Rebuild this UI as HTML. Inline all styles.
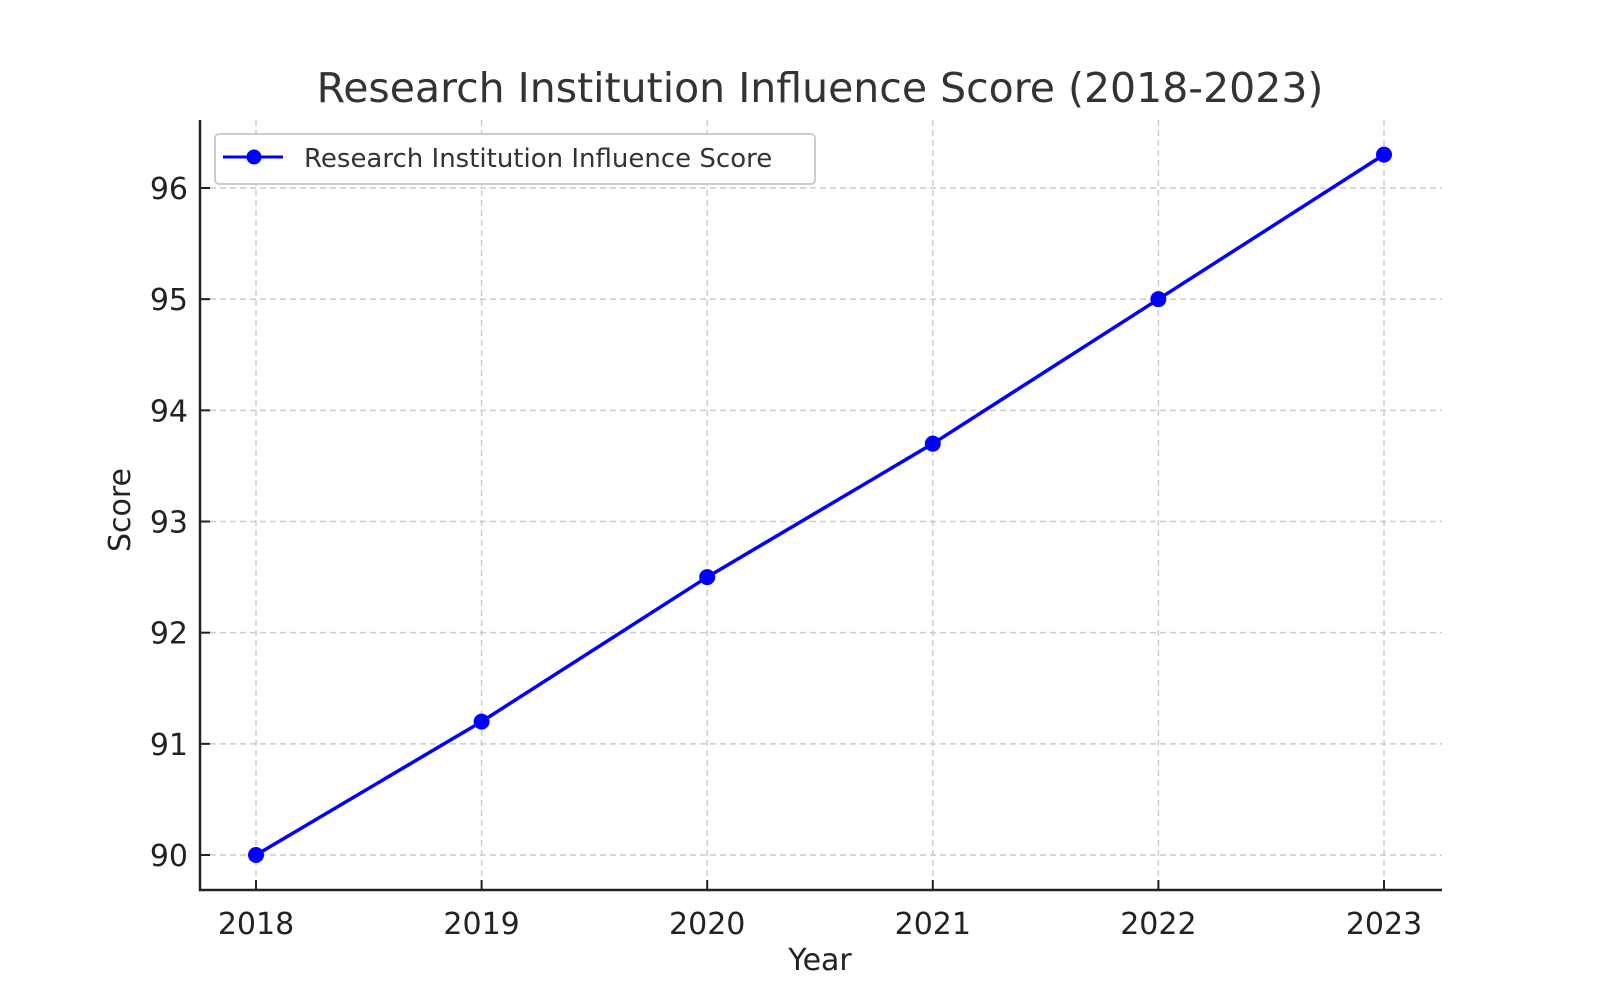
<!DOCTYPE html>
<html><head><meta charset="utf-8"><style>body{margin:0;background:#fff}svg{display:block}text{font-family:"DejaVu Sans","Liberation Sans",sans-serif}</style></head>
<body>
<svg id="chart" width="1600" height="1000" viewBox="0 0 1600 1000">
<rect width="1600" height="1000" fill="#fff"/>
<text x="820" y="102" text-anchor="middle" font-size="41" fill="#333">Research Institution Influence Score (2018-2023)</text>
<g id="grid"></g><g id="axes"></g><g id="series"></g>
<text x="820" y="970" text-anchor="middle" font-size="30" fill="#222">Year</text>
<text transform="translate(130,510) rotate(-90)" text-anchor="middle" font-size="30" fill="#222">Score</text>
<g>
<rect x="215" y="134" width="600" height="50" rx="4" fill="#fff" stroke="#ccc" stroke-width="2"/>
<line x1="223" y1="157" x2="283" y2="157" stroke="#0000ff" stroke-width="3"/>
<circle cx="254" cy="157" r="7.5" fill="#0000ff"/>
<text x="304" y="167" font-size="26" fill="#333">Research Institution Influence Score</text>
</g>
</svg>
<script>
const years=["2018","2019","2020","2021","2022","2023"];
const scores=[90,91.2,92.5,93.7,95,96.3];
const yTicks=[90,91,92,93,94,95,96];
const NS="http://www.w3.org/2000/svg";
const L=200,R=1442,T=120,B=890;
const xs=i=>256+i*(1384-256)/5;
const ys=v=>855-(v-90)*(855-188)/6;
function mk(tag,attrs,parent){const e=document.createElementNS(NS,tag);for(const k in attrs)e.setAttribute(k,attrs[k]);document.getElementById(parent).appendChild(e);return e;}
years.forEach((y,i)=>{
 const g=mk('line',{x1:xs(i),x2:xs(i),y1:T,y2:B,stroke:'#ccc','stroke-width':1.5,'stroke-dasharray':'6,4'},'grid');
 
 
 const t=mk('line',{x1:xs(i),x2:xs(i),y1:B,y2:B-10,stroke:'#222','stroke-width':2},'axes');
 
 
 const l=mk('text',{x:xs(i),y:B+44,'text-anchor':'middle','font-size':30,fill:'#222'},'axes');l.textContent=y;
 
 
});
yTicks.forEach(v=>{
 const g=mk('line',{x1:L,x2:R,y1:ys(v),y2:ys(v),stroke:'#ccc','stroke-width':1.5,'stroke-dasharray':'6,4'},'grid');
 
 
 const t=mk('line',{x1:L,x2:L+10,y1:ys(v),y2:ys(v),stroke:'#222','stroke-width':2},'axes');
 
 
 const l=mk('text',{x:L-12,y:ys(v)+11,'text-anchor':'end','font-size':30,fill:'#222'},'axes');l.textContent=v;
 
 
});
const ax=mk('path',{d:`M${L},${T} V${B} H${R}`,fill:'none',stroke:'#222','stroke-width':2.5},'axes');


const ln=mk('polyline',{points:scores.map((v,i)=>xs(i)+','+ys(v)).join(' '),fill:'none',stroke:'#0000ff','stroke-width':3.5},'series');


scores.forEach((v,i)=>{
 const c=mk('circle',{cx:xs(i),cy:ys(v),r:8,fill:'#0000ff'},'series');
 
 
});
</script>
</body></html>
